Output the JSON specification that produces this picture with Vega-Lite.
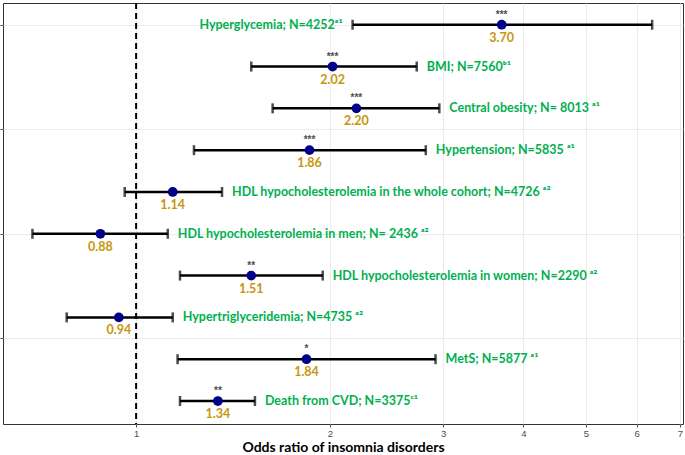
{
  "$schema": "https://vega.github.io/schema/vega-lite/v6.json",
  "width": 680,
  "height": 421,
  "autosize": {"type": "none"},
  "padding": {"left": 3, "top": 3, "right": 2, "bottom": 31},
  "background": "white",
  "config": {
    "view": {"stroke": "#333333", "strokeWidth": 1},
    "axis": {"gridColor": "#EBEBEB", "gridWidth": 1}
  },
  "datasets": {
    "rows": [
      {"label": "Hyperglycemia; N=4252ᵃ¹", "row": 10, "or": 3.70, "lower": 2.17, "upper": 6.34, "sig": "***"},
      {"label": "BMI; N=7560ᵇ¹", "row": 9, "or": 2.02, "lower": 1.51, "upper": 2.73, "sig": "***"},
      {"label": "Central obesity; N= 8013 ᵃ¹", "row": 8, "or": 2.20, "lower": 1.63, "upper": 2.96, "sig": "***"},
      {"label": "Hypertension; N=5835 ᵃ¹", "row": 7, "or": 1.86, "lower": 1.23, "upper": 2.82, "sig": "***"},
      {"label": "HDL hypocholesterolemia in the whole cohort; N=4726 ᵃ²", "row": 6, "or": 1.14, "lower": 0.96, "upper": 1.36, "sig": ""},
      {"label": "HDL hypocholesterolemia in men; N= 2436 ᵃ²", "row": 5, "or": 0.88, "lower": 0.69, "upper": 1.12, "sig": ""},
      {"label": "HDL hypocholesterolemia in women; N=2290 ᵃ²", "row": 4, "or": 1.51, "lower": 1.17, "upper": 1.95, "sig": "**"},
      {"label": "Hypertriglyceridemia; N=4735 ᵃ²", "row": 3, "or": 0.94, "lower": 0.78, "upper": 1.14, "sig": ""},
      {"label": "MetS; N=5877 ᵃ¹", "row": 2, "or": 1.84, "lower": 1.16, "upper": 2.92, "sig": "*"},
      {"label": "Death from CVD; N=3375ᶜ¹", "row": 1, "or": 1.34, "lower": 1.17, "upper": 1.53, "sig": "**"}
    ],
    "ref": [{"x": 1}]
  },
  "data": {"name": "rows"},
  "encoding": {
    "y": {
      "field": "row", "type": "quantitative",
      "scale": {"domain": [0.45, 10.52], "nice": false, "zero": false},
      "axis": {"values": [2.5, 5, 7.5, 10], "labels": false, "title": null, "domain": false, "tickSize": 3, "tickColor": "#4D4D4D", "grid": true}
    }
  },
  "layer": [
    {
      "mark": {"type": "rule", "strokeWidth": 2.5, "color": "black"},
      "encoding": {
        "x": {
          "field": "lower", "type": "quantitative",
          "scale": {"type": "log", "domain": [0.621, 7.08], "nice": false, "zero": false},
          "axis": {
            "values": [1, 2, 3, 4, 5, 6, 7],
            "format": "d",
            "title": "Odds ratio of insomnia disorders",
            "titleFont": "Lato", "titleFontSize": 14, "titleFontWeight": "bold", "titleColor": "black",
            "titleY": 23, "titleBaseline": "middle",
            "labelFont": "Liberation Sans", "labelFontSize": 9.5, "labelColor": "#4D4D4D",
            "labelPadding": 1,
            "tickSize": 3, "tickColor": "#4D4D4D", "domain": false, "grid": true
          }
        },
        "x2": {"field": "upper"}
      }
    },
    {
      "mark": {"type": "tick", "orient": "vertical", "size": 10, "thickness": 2.5, "color": "black"},
      "encoding": {"x": {"field": "lower", "type": "quantitative"}}
    },
    {
      "mark": {"type": "tick", "orient": "vertical", "size": 10, "thickness": 2.5, "color": "black"},
      "encoding": {"x": {"field": "upper", "type": "quantitative"}}
    },
    {
      "data": {"name": "ref"},
      "mark": {"type": "rule", "strokeDash": [6, 4], "strokeWidth": 2, "color": "black"},
      "encoding": {"x": {"field": "x", "type": "quantitative"}, "y": null}
    },
    {
      "mark": {"type": "point", "filled": true, "shape": "circle", "size": 95, "color": "#00008B", "opacity": 1},
      "encoding": {"x": {"field": "or", "type": "quantitative"}}
    },
    {
      "mark": {"type": "text", "dy": 13, "font": "Lato", "fontSize": 12.5, "fontWeight": "bold", "color": "#C9950C"},
      "encoding": {"x": {"field": "or", "type": "quantitative"}, "text": {"field": "or", "type": "quantitative", "format": ".2f"}}
    },
    {
      "mark": {"type": "text", "dy": -10, "font": "Liberation Sans", "fontSize": 10, "fontWeight": "bold", "color": "#4D4D4D"},
      "encoding": {"x": {"field": "or", "type": "quantitative"}, "text": {"field": "sig"}}
    },
    {
      "transform": [{"filter": "datum.upper < 5"}],
      "mark": {"type": "text", "align": "left", "dx": 10, "font": "Lato", "fontSize": 12.5, "fontWeight": "bold", "color": "#00B050"},
      "encoding": {"x": {"field": "upper", "type": "quantitative"}, "text": {"field": "label"}}
    },
    {
      "transform": [{"filter": "datum.upper >= 5"}],
      "mark": {"type": "text", "align": "right", "dx": -10, "font": "Lato", "fontSize": 12.5, "fontWeight": "bold", "color": "#00B050"},
      "encoding": {"x": {"field": "lower", "type": "quantitative"}, "text": {"field": "label"}}
    }
  ]
}
